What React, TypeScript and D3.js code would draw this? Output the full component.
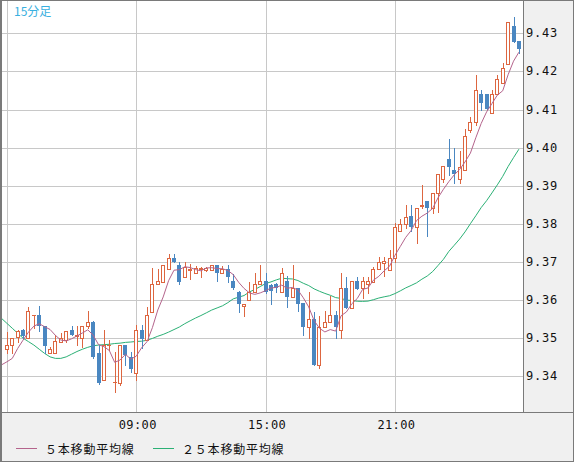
import React from "react";
import * as d3 from "d3";

// ---- data (15-minute candles, starting 03:00) ----
const startTime = new Date(2024, 0, 1, 3, 0);
const intervalMinutes = 15;

const opens = [
  9.3471, 9.3482, 9.3504, 9.3521, 9.35, 9.356, 9.3561, 9.3532, 9.346, 9.346,
  9.3491, 9.3495, 9.3521, 9.3505, 9.35, 9.3532, 9.3543, 9.3462, 9.339, 9.3481,
  9.3385, 9.3382, 9.3482, 9.3451, 9.3409, 9.3521, 9.3495, 9.357, 9.3641, 9.3648,
  9.3682, 9.371, 9.3692, 9.366, 9.3678, 9.367, 9.3681, 9.3679, 9.3679, 9.3692,
  9.367, 9.3681, 9.365, 9.362, 9.3585, 9.36, 9.3622, 9.3641, 9.365, 9.3639,
  9.3641, 9.3622, 9.365, 9.3609, 9.3633, 9.3592, 9.353, 9.355, 9.343, 9.353,
  9.3542, 9.3561, 9.3521, 9.3631, 9.358, 9.365, 9.3631, 9.3641, 9.3648, 9.3682,
  9.3698, 9.3679, 9.371, 9.378, 9.3799, 9.382, 9.3791, 9.3848, 9.386, 9.3841,
  9.388, 9.3919, 9.397, 9.3941, 9.3919, 9.3941, 9.4046, 9.4068, 9.4141, 9.4141,
  9.409, 9.414, 9.417, 9.4219, 9.4319, 9.428,
];
const highs = [
  9.3517, 9.35, 9.3521, 9.3524, 9.3583, 9.3562, 9.3584, 9.3532, 9.3477, 9.3508,
  9.3513, 9.352, 9.3532, 9.3532, 9.3532, 9.3571, 9.3545, 9.3482, 9.3521, 9.3495,
  9.3465, 9.3482, 9.3482, 9.3464, 9.3535, 9.3535, 9.3583, 9.3683, 9.3682, 9.3692,
  9.372, 9.372, 9.3701, 9.3701, 9.3695, 9.369, 9.3687, 9.3688, 9.3692, 9.3692,
  9.369, 9.3692, 9.3668, 9.3625, 9.3591, 9.3647, 9.367, 9.3692, 9.367, 9.3642,
  9.3645, 9.3683, 9.3662, 9.3692, 9.3633, 9.3592, 9.362, 9.357, 9.3557, 9.3571,
  9.3612, 9.3571, 9.367, 9.3661, 9.365, 9.3661, 9.3661, 9.3661, 9.3687, 9.3712,
  9.3712, 9.3731, 9.3802, 9.3812, 9.385, 9.385, 9.3841, 9.3901, 9.386, 9.388,
  9.3931, 9.3952, 9.4022, 9.4, 9.399, 9.405, 9.4081, 9.4191, 9.4151, 9.4141,
  9.4151, 9.4191, 9.4221, 9.4329, 9.4342, 9.428,
];
const lows = [
  9.3461, 9.3461, 9.3491, 9.35, 9.35, 9.3527, 9.352, 9.3461, 9.346, 9.346,
  9.3491, 9.349, 9.3508, 9.3482, 9.3478, 9.3527, 9.3448, 9.338, 9.339, 9.3469,
  9.336, 9.3377, 9.343, 9.3411, 9.339, 9.3474, 9.3495, 9.357, 9.3641, 9.3648,
  9.3682, 9.3699, 9.3641, 9.366, 9.3655, 9.367, 9.366, 9.3676, 9.3679, 9.365,
  9.367, 9.3648, 9.363, 9.357, 9.3558, 9.36, 9.3622, 9.3641, 9.3618, 9.3591,
  9.362, 9.3622, 9.3581, 9.3609, 9.3572, 9.3508, 9.35, 9.343, 9.3421, 9.353,
  9.3542, 9.35, 9.35, 9.358, 9.358, 9.3629, 9.3605, 9.3618, 9.3648, 9.3682,
  9.3663, 9.3679, 9.37, 9.378, 9.3788, 9.378, 9.3749, 9.3842, 9.3769, 9.3828,
  9.3832, 9.391, 9.3928, 9.3908, 9.3908, 9.3941, 9.4042, 9.4059, 9.4099, 9.4099,
  9.409, 9.414, 9.417, 9.4219, 9.4278, 9.4249,
];
const closes = [
  9.3482, 9.35, 9.352, 9.3506, 9.3571, 9.3561, 9.3532, 9.348, 9.3471, 9.3493,
  9.35, 9.352, 9.3508, 9.3508, 9.3532, 9.3542, 9.3451, 9.3382, 9.3482, 9.3482,
  9.3386, 9.3482, 9.3456, 9.3419, 9.3521, 9.3497, 9.3561, 9.3641, 9.365, 9.3692,
  9.371, 9.3699, 9.3648, 9.3688, 9.3682, 9.3683, 9.3683, 9.3685, 9.3692, 9.367,
  9.3681, 9.366, 9.3631, 9.3591, 9.359, 9.3622, 9.3641, 9.365, 9.362, 9.3625,
  9.3631, 9.367, 9.3609, 9.3631, 9.359, 9.353, 9.355, 9.343, 9.353, 9.3542,
  9.3561, 9.353, 9.3631, 9.358, 9.365, 9.3629, 9.365, 9.365, 9.3682, 9.37,
  9.3702, 9.371, 9.3793, 9.3799, 9.3819, 9.3791, 9.3841, 9.385, 9.3841, 9.388,
  9.3931, 9.3952, 9.395, 9.393, 9.395, 9.403, 9.4068, 9.4151, 9.4118, 9.4101,
  9.414, 9.4179, 9.4208, 9.4329, 9.4278, 9.4258,
];

// moving-average values for the bars before the window fills
// (index -1 .. n-2)
const ma5Lead = [9.343, 9.3438, 9.3447, 9.3473, 9.3495];
const ma25Lead = [
  9.3552, 9.3539, 9.3526, 9.3513, 9.35, 9.3491, 9.3482, 9.3471, 9.346, 9.3451,
  9.3447, 9.3447, 9.3451, 9.3458, 9.3465, 9.3471, 9.3476, 9.348, 9.3482, 9.3483,
  9.3484, 9.3486, 9.3487, 9.3489, 9.349,
];

const priceTicks = [9.34, 9.35, 9.36, 9.37, 9.38, 9.39, 9.4, 9.41, 9.42, 9.43];
const gridTimes = ["03:00", "09:00", "15:00", "21:00"];
const periodLabel = "15分足";
const legendItems = [
  { label: "５本移動平均線", key: "ma5" },
  { label: "２５本移動平均線", key: "ma25" },
];

// ---- styles ----
const UP = "#dd6640";
const DOWN = "#4a87c1";
const MA5C = "#b4648c";
const MA25C = "#2bb075";
const GRID = "#c8c8c8";
const PANEL = "#f0f0f0";
const FRAME = "#7a7a7a";

const W = 574;
const H = 462;
const PR = 523; // plot right
const PB = 412; // plot bottom

function movingAverage(n: number, lead: number[]) {
  const out: { i: number; v: number }[] = [];
  lead.forEach((v, k) => out.push({ i: k - 1, v }));
  for (let i = n - 1; i < closes.length; i++) {
    out.push({ i, v: d3.mean(closes.slice(i - n + 1, i + 1)) as number });
  }
  return out;
}

function parseHM(s: string) {
  const [h, m] = s.split(":").map(Number);
  const d = new Date(startTime);
  d.setHours(h, m, 0, 0);
  if (d < startTime) d.setDate(d.getDate() + 1);
  return d;
}

export default function App() {
  const timeAt = (i: number) => d3.timeMinute.offset(startTime, i * intervalMinutes);
  const x = d3
    .scaleTime()
    .domain([timeAt(0), timeAt(closes.length - 1)])
    .range([6.9, 518.9]);
  const y = d3.scaleLinear().domain([9.34, 9.43]).range([376.3, 33.3]);

  const ma5 = movingAverage(5, ma5Lead);
  const ma25 = movingAverage(25, ma25Lead);
  const line = d3
    .line<{ i: number; v: number }>()
    .x((d) => x(timeAt(d.i)))
    .y((d) => y(d.v));

  const candles = closes.map((c, i) => {
    const o = opens[i];
    const cx = Math.round(x(timeAt(i)));
    const yo = Math.round(y(o));
    const yc = Math.round(y(c));
    const yh = Math.round(y(highs[i]));
    const yl = Math.round(y(lows[i]));
    const up = c >= o;
    const color = up ? UP : DOWN;
    const top = Math.min(yo, yc);
    const bot = Math.max(yo, yc);
    return (
      <g key={i}>
        <line x1={cx + 0.5} x2={cx + 0.5} y1={yh} y2={yl + 1} stroke={color} strokeWidth={1} />
        {up ? (
          bot - top >= 1 ? (
            <rect x={cx - 1.5} y={top + 0.5} width={3} height={bot - top} fill="#fff" stroke={color} strokeWidth={1} />
          ) : (
            <rect x={cx - 2} y={top} width={4} height={1} fill={color} />
          )
        ) : (
          <rect x={cx - 2} y={top} width={4} height={Math.max(1, bot - top)} fill={color} />
        )}
      </g>
    );
  });

  const mono = "'DejaVu Sans Mono', monospace";
  const cjk = "'Noto Sans CJK JP', 'Noto Sans', sans-serif";

  return (
    <div style={{ position: "fixed", left: 0, top: 0 }}>
      <svg width={W} height={H} style={{ display: "block" }}>
        <defs>
          <clipPath id="plotClip">
            <rect x={1} y={1} width={PR - 1} height={PB - 1} />
          </clipPath>
        </defs>
        <rect x={0} y={0} width={W} height={H} fill={PANEL} />
        <rect x={0} y={0} width={PR} height={PB} fill="#fff" />

        {/* grid */}
        {priceTicks.map((p) => (
          <line key={p} x1={0} x2={PR} y1={Math.round(y(p)) + 0.5} y2={Math.round(y(p)) + 0.5} stroke={GRID} />
        ))}
        {gridTimes.map((t) => {
          const gx = Math.round(x(parseHM(t))) + 0.5;
          return <line key={t} x1={gx} x2={gx} y1={0} y2={PB} stroke={GRID} />;
        })}

        <g clipPath="url(#plotClip)">
          <path d={line(ma25) || ""} fill="none" stroke={MA25C} strokeWidth={1} />
          {candles}
          <path d={line(ma5) || ""} fill="none" stroke={MA5C} strokeWidth={1} />
        </g>

        {/* price labels */}
        {priceTicks.map((p) => (
          <text key={p} x={526} y={y(p)} dominantBaseline="central" fontFamily={mono} fontSize={12} letterSpacing={0.8} fill="#111">
            {d3.format(".2f")(p)}
          </text>
        ))}

        {/* time labels */}
        {gridTimes.map((t) => {
          const gx = x(parseHM(t));
          if (gx < 30) return null;
          return (
            <text key={t} x={gx + 1.5} y={425} textAnchor="middle" dominantBaseline="central" fontFamily={mono} fontSize={12} letterSpacing={0.4} fill="#111">
              {t}
            </text>
          );
        })}

        {/* legend */}
        {legendItems.map((it, k) => {
          const lx = k === 0 ? 16 : 153;
          return (
            <g key={it.key}>
              <line x1={lx} x2={lx + 21} y1={448.5} y2={448.5} stroke={it.key === "ma5" ? MA5C : MA25C} />
              <text x={lx + 29} y={448} dominantBaseline="central" fontFamily={cjk} fontSize={12} letterSpacing={0.8} fill="#111">
                {it.label}
              </text>
            </g>
          );
        })}

        <text x={14} y={10} dominantBaseline="central" fontFamily={cjk} fontSize={12} fill="#38b0e0">
          {periodLabel}
        </text>

        {/* frame */}
        <line x1={PR + 0.5} x2={PR + 0.5} y1={0} y2={PB} stroke={FRAME} />
        <line x1={0} x2={W} y1={PB + 0.5} y2={PB + 0.5} stroke={FRAME} />
        <rect x={0.5} y={0.5} width={W - 1} height={H - 1} fill="none" stroke={FRAME} />
        <line x1={1.5} x2={1.5} y1={0} y2={H} stroke={FRAME} />
      </svg>
    </div>
  );
}
